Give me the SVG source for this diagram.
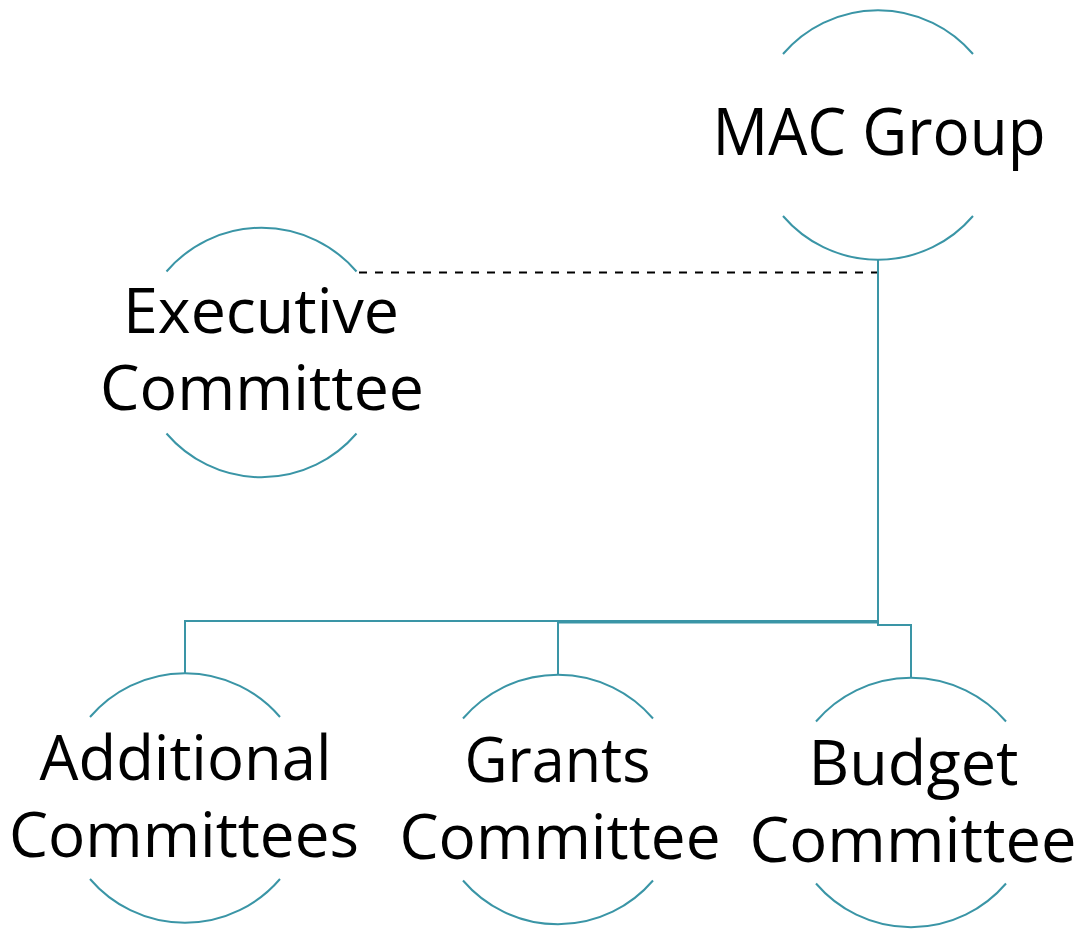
<svg xmlns="http://www.w3.org/2000/svg" width="1089" height="937" viewBox="0 0 1089 937">
<style>
.arc{fill:none;stroke:#3A95A6;stroke-width:2}
.conn{fill:none;stroke:#3A95A6;stroke-width:2}
.dash{fill:none;stroke:#000;stroke-width:2;stroke-dasharray:8 8}
.lbl{font-family:"Open Sans","Liberation Sans",sans-serif;font-size:63px;fill:#000;text-anchor:middle}
</style>
<rect width="1089" height="937" fill="#fff"/>
<g id="connectors">
<path class="dash" d="M359 272.5 H878"/>
<path class="conn" d="M878 260 V621 H185 V674"/>
<path class="conn" d="M878 622.5 H558 V675"/>
<path class="conn" d="M878 621 V625 H911 V678"/>
</g>
<g id="mac-group">
<path class="arc" d="M783 54 A125 125 0 0 1 973 54"/>
<path class="arc" d="M783 216 A125 125 0 0 0 973 216"/>
<text class="lbl" x="879" y="155" style="font-size:66px" textLength="333" lengthAdjust="spacingAndGlyphs">MAC Group</text>
</g>
<g id="executive-committee">
<path class="arc" d="M166.5 271.5 A125 125 0 0 1 356.5 271.5"/>
<path class="arc" d="M166.5 433.5 A125 125 0 0 0 356.5 433.5"/>
<text class="lbl" x="261" y="333" textLength="276" lengthAdjust="spacingAndGlyphs">Executive</text>
<text class="lbl" x="262" y="410" textLength="324" lengthAdjust="spacingAndGlyphs">Committee</text>
</g>
<g id="additional-committees">
<path class="arc" d="M90 717 A125 125 0 0 1 280 717"/>
<path class="arc" d="M90 879 A125 125 0 0 0 280 879"/>
<text class="lbl" x="185.5" y="780" textLength="292" lengthAdjust="spacingAndGlyphs">Additional</text>
<text class="lbl" x="184" y="857" textLength="350" lengthAdjust="spacingAndGlyphs">Committees</text>
</g>
<g id="grants-committee">
<path class="arc" d="M463 718.5 A125 125 0 0 1 653 718.5"/>
<path class="arc" d="M463 880.5 A125 125 0 0 0 653 880.5"/>
<text class="lbl" x="557.5" y="782" textLength="186" lengthAdjust="spacingAndGlyphs">Grants</text>
<text class="lbl" x="560" y="859" textLength="321" lengthAdjust="spacingAndGlyphs">Committee</text>
</g>
<g id="budget-committee">
<path class="arc" d="M816 721.5 A125 125 0 0 1 1006 721.5"/>
<path class="arc" d="M816 883.5 A125 125 0 0 0 1006 883.5"/>
<text class="lbl" x="913.5" y="785" textLength="210" lengthAdjust="spacingAndGlyphs">Budget</text>
<text class="lbl" x="913" y="862" textLength="327" lengthAdjust="spacingAndGlyphs">Committee</text>
</g>
</svg>
